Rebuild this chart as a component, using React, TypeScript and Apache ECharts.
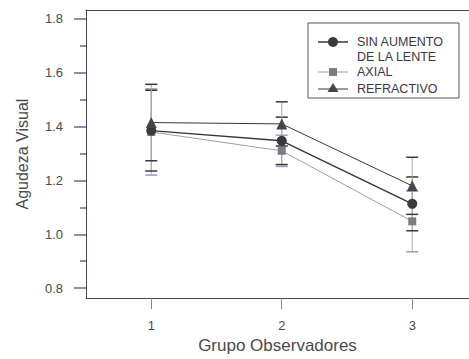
import React, { useEffect, useRef } from "react";
import * as echarts from "echarts";

const groups = [1, 2, 3];
const groupLabels = ["1", "2", "3"];
const sinMean = [1.385, 1.347, 1.113];
const sinErr = [0.15, 0.088, 0.1];
const axialMean = [1.38, 1.31, 1.048];
const axialErr = [0.16, 0.058, 0.113];
const refrMean = [1.415, 1.41, 1.18];
const refrErr = [0.142, 0.082, 0.106];
const yMajor = [0.8, 1.0, 1.2, 1.4, 1.6, 1.8];
const yMinor = [0.9, 1.1, 1.3, 1.5, 1.7];
const seriesNames = ["SIN AUMENTO\nDE LA LENTE", "AXIAL", "REFRACTIVO"];

const FONT = '"Liberation Sans", Arial, sans-serif';
const AXIS = "#4a4458";
const TICK = "#7a5f98";
const TEXT = "#4a4a4a";
const DARK = "#333a36";
const LIGHT = "#a994c2";

function errData(mean: number[], err: number[]) {
  return groups.map((g, i) => [g, mean[i] - err[i], mean[i] + err[i]]);
}

function errSeries(name: string, mean: number[], err: number[], capColor: string) {
  return {
    type: "custom",
    name: name + "-err",
    data: errData(mean, err),
    z: 1,
    renderItem: (params: any, api: any) => {
      const x = api.value(0);
      const lo = api.coord([x, api.value(1)]);
      const hi = api.coord([x, api.value(2)]);
      const w = 6;
      return {
        type: "group",
        children: [
          { type: "line", shape: { x1: lo[0], y1: lo[1], x2: hi[0], y2: hi[1] }, style: { stroke: "#a8a8a8", lineWidth: 1 } },
          { type: "line", shape: { x1: lo[0] - w, y1: lo[1], x2: lo[0] + w, y2: lo[1] }, style: { stroke: capColor, lineWidth: 1.5 } },
          { type: "line", shape: { x1: hi[0] - w, y1: hi[1], x2: hi[0] + w, y2: hi[1] }, style: { stroke: capColor, lineWidth: 1.5 } },
        ],
      };
    },
  };
}

function lineSeries(name: string, mean: number[], color: string, lw: number, symbol: string, size: number, symColor: string) {
  return {
    type: "line",
    name,
    data: groups.map((g, i) => [g, mean[i]]),
    lineStyle: { color, width: lw },
    itemStyle: { color: symColor, borderWidth: 0 },
    symbol,
    symbolSize: size,
    showSymbol: true,
    z: 3,
  };
}

export default function App() {
  const ref = useRef<HTMLDivElement>(null);
  useEffect(() => {
    if (!ref.current) return;
    const chart = echarts.init(ref.current, undefined, { renderer: "svg" });
    const lx = 318, lx2 = 348, mx = 333, tx = 357;
    const lt = { fill: "#3d3545", fontSize: 12.5, fontFamily: FONT, verticalAlign: "middle" };
    chart.setOption({
      animation: false,
      backgroundColor: "#ffffff",
      textStyle: { fontFamily: FONT },
      grid: { left: 86, top: 10, bottom: 59, right: 0 },
      xAxis: [
        {
          type: "value",
          min: 0.5,
          max: 3.435,
          name: "Grupo Observadores",
          nameLocation: "middle",
          nameGap: 38,
          nameTextStyle: { color: TEXT, fontSize: 17, fontFamily: FONT },
          axisLine: { show: true, lineStyle: { color: AXIS, width: 1 } },
          axisTick: { show: true, customValues: groups, length: 11, lineStyle: { color: "#8a8a8a" } },
          axisLabel: { customValues: groups, formatter: (v: number) => groupLabels[groups.indexOf(v)] ?? "", color: TEXT, fontSize: 13, margin: 21, fontFamily: FONT },
          splitLine: { show: false },
        },
        {
          type: "value",
          min: 0.5,
          max: 3.435,
          position: "top",
          axisLine: { show: true, lineStyle: { color: AXIS, width: 1 } },
          axisTick: { show: false },
          axisLabel: { show: false },
          splitLine: { show: false },
        },
      ],
      yAxis: [
        {
          type: "value",
          min: 0.763,
          max: 1.833,
          name: "Agudeza Visual",
          nameLocation: "middle",
          nameGap: 56,
          nameTextStyle: { color: TEXT, fontSize: 16, fontFamily: FONT },
          axisLine: { show: true, lineStyle: { color: AXIS, width: 1 } },
          axisTick: { show: true, customValues: yMajor, length: 12, lineStyle: { color: TICK, width: 1.5 } },
          axisLabel: { customValues: yMajor, formatter: (v: number) => v.toFixed(1), color: TEXT, fontSize: 13, margin: 23, fontFamily: FONT },
          splitLine: { show: false },
        },
        {
          type: "value",
          min: 0.763,
          max: 1.833,
          position: "left",
          axisLine: { show: false },
          axisTick: { show: true, customValues: yMinor, length: 6, lineStyle: { color: TICK, width: 1.5 } },
          axisLabel: { show: false },
          splitLine: { show: false },
        },
      ],
      series: [
        errSeries(seriesNames[1], axialMean, axialErr, LIGHT),
        errSeries(seriesNames[0], sinMean, sinErr, DARK),
        errSeries(seriesNames[2], refrMean, refrErr, DARK),
        lineSeries(seriesNames[1], axialMean, LIGHT, 1, "rect", 8, "#7d7d85"),
        lineSeries(seriesNames[0], sinMean, DARK, 1.5, "circle", 10, "#3a3a3a"),
        lineSeries(seriesNames[2], refrMean, DARK, 1, "triangle", 11, "#45454d"),
      ],
      graphic: [
        { type: "rect", shape: { x: 308, y: 23, width: 151, height: 75 }, style: { fill: "#fff", stroke: "#555", lineWidth: 1 }, z: 10 },
        { type: "line", shape: { x1: lx, y1: 42, x2: lx2, y2: 42 }, style: { stroke: DARK, lineWidth: 1.5 }, z: 11 },
        { type: "circle", shape: { cx: mx, cy: 42, r: 5 }, style: { fill: "#3a3a3a" }, z: 12 },
        { type: "text", x: tx, y: 42, style: { text: "SIN AUMENTO", ...lt }, z: 12 },
        { type: "text", x: tx, y: 57, style: { text: "DE LA LENTE", ...lt }, z: 12 },
        { type: "line", shape: { x1: lx, y1: 72, x2: lx2, y2: 72 }, style: { stroke: LIGHT, lineWidth: 1 }, z: 11 },
        { type: "rect", shape: { x: mx - 4, y: 68, width: 8, height: 8 }, style: { fill: "#7d7d85" }, z: 12 },
        { type: "text", x: tx, y: 72, style: { text: "AXIAL", ...lt }, z: 12 },
        { type: "line", shape: { x1: lx, y1: 89, x2: lx2, y2: 89 }, style: { stroke: DARK, lineWidth: 1 }, z: 11 },
        { type: "polygon", shape: { points: [[mx, 83], [mx - 5.5, 92], [mx + 5.5, 92]] }, style: { fill: "#45454d" }, z: 12 },
        { type: "text", x: tx, y: 89, style: { text: "REFRACTIVO", ...lt }, z: 12 },
      ],
    });
    return () => chart.dispose();
  }, []);
  return <div ref={ref} style={{ position: "absolute", left: 0, top: 0, width: 469, height: 359 }} />;
}
